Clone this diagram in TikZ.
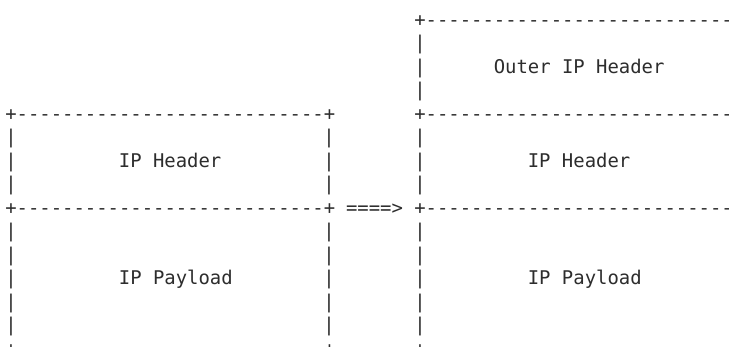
\documentclass[tikz,border=0pt]{standalone}
\usepackage{fontspec}
\setmonofont{DejaVu Sans Mono}
\usepackage{tikz}

\definecolor{ink}{RGB}{45,45,45}

\tikzset{
	ascii/.style={anchor=base west, inner sep=0pt, outer sep=0pt, text=ink,
		font=\ttfamily\fontsize{18.9}{23.5}\selectfont}
}

\begin{document}
\begin{tikzpicture}[x=11.36pt, y=-23.5pt]
	\fill[white] (-5.3pt,26.4pt) rectangle (723.7pt,-320.6pt);
	\useasboundingbox (-5.3pt,26.4pt) rectangle (723.7pt,-320.6pt);
	% outer header on the right
	\node[ascii] (otop) at (36,0) {+---------------------------};
	\foreach \r in {1,2,3}
		\node[ascii] (obar-\r) at (36,\r) {|};
	\node[ascii] (outer) at (43,2) {Outer IP Header};
	% original packet, left
	\node[ascii] (ltop) at (0,4) {+---------------------------+};
	\node[ascii] (lsep) at (0,8) {+---------------------------+};
	\node[ascii] (lbot) at (0,14) {+---------------------------+};
	\node[ascii] (lhdr) at (10,6) {IP Header};
	\node[ascii] (lpay) at (10,11) {IP Payload};
	% encapsulated packet, right
	\node[ascii] (otsep) at (36,4) {+---------------------------};
	\node[ascii] (rsep) at (36,8) {+---------------------------};
	\node[ascii] (rbot) at (36,14) {+---------------------------};
	\node[ascii] (rhdr) at (46,6) {IP Header};
	\node[ascii] (rpay) at (46,11) {IP Payload};
	% side bars
	\foreach \r in {5,6,7,9,10,11,12,13}
		\foreach \c in {0,28,36}
			\node[ascii] (bar-\c-\r) at (\c,\r) {|};
	\node[ascii] (arrow) at (30,8) {====>};
\end{tikzpicture}
\end{document}
